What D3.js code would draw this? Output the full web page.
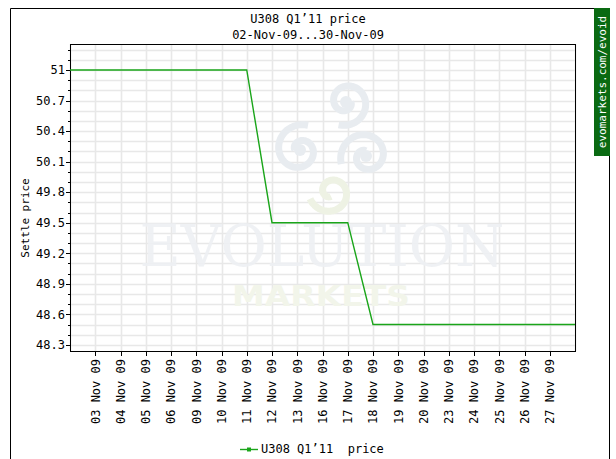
<!DOCTYPE html>
<html><head><meta charset="utf-8">
<script src="https://cdn.jsdelivr.net/npm/d3@7"></script>
<style>body{margin:0;background:#fff} text{white-space:pre}</style>
</head><body>
<svg id="c" width="616" height="459"></svg>
<script>
const dates = ["02 Nov 09","03 Nov 09","04 Nov 09","05 Nov 09","06 Nov 09","09 Nov 09","10 Nov 09","11 Nov 09","12 Nov 09","13 Nov 09","16 Nov 09","17 Nov 09","18 Nov 09","19 Nov 09","20 Nov 09","23 Nov 09","24 Nov 09","25 Nov 09","26 Nov 09","27 Nov 09","30 Nov 09"];
const prices = [51,51,51,51,51,51,51,51,49.5,49.5,49.5,49.5,48.5,48.5,48.5,48.5,48.5,48.5,48.5,48.5,48.5];
const tickLabels = ["03 Nov 09","04 Nov 09","05 Nov 09","06 Nov 09","09 Nov 09","10 Nov 09","11 Nov 09","12 Nov 09","13 Nov 09","16 Nov 09","17 Nov 09","18 Nov 09","19 Nov 09","20 Nov 09","23 Nov 09","24 Nov 09","25 Nov 09","26 Nov 09","27 Nov 09"];
const yMajor = [48.3,48.6,48.9,49.2,49.5,49.8,50.1,50.4,50.7,51];
const yMinor = [48.3,48.4,48.5,48.6,48.7,48.8,48.9,49.0,49.1,49.2,49.3,49.4,49.5,49.6,49.7,49.8,49.9,50.0,50.1,50.2,50.3,50.4,50.5,50.6,50.7,50.8,50.9,51.0,51.1,51.2];
const title = "U308 Q1\u201911 price";
const subtitle = "02-Nov-09...30-Nov-09";
const yTitle = "Settle price";
const legendText = "U308 Q1\u201911  price";
const watermark = "evomarkets.com/evoid";

const svg = d3.select("#c");
const L=70, R=575, T=44, B=351;
const font = "'DejaVu Sans Mono', monospace";
const x = d3.scalePoint().domain(dates).range([L,R]);
const y = d3.scaleLinear().domain([48.24,51.255]).range([B,T]);

// outer frame
svg.append("path").attr("d","M10.5,459 V8.5 H594").attr("fill","none").attr("stroke","#000");
svg.append("line").attr("x1",609.5).attr("x2",609.5).attr("y1",8).attr("y2",459).attr("stroke","#000");
// green side box
svg.append("rect").attr("x",594).attr("y",8).attr("width",16).attr("height",148).attr("fill","#0a6a12");
svg.append("text").attr("transform","translate(605.5,82) rotate(-90)").attr("text-anchor","middle")
  .attr("font-family",font).attr("font-size",11).attr("fill","#fff").text(watermark);

// titles
svg.append("text").attr("x",308).attr("y",23).attr("text-anchor","middle").attr("font-family",font).attr("font-size",12).attr("fill","#000").text(title);
svg.append("text").attr("x",308).attr("y",39).attr("text-anchor","middle").attr("font-family",font).attr("font-size",12).attr("fill","#000").text(subtitle);

// grid
const g = svg.append("g");
g.selectAll(".hg").data(yMinor).join("line").attr("x1",L).attr("x2",R)
  .attr("y1",d=>Math.round(y(d))+0.5).attr("y2",d=>Math.round(y(d))+0.5).attr("stroke","#e8e8e8").attr("stroke-width",1.6);
g.selectAll(".vg").data(dates).join("line").attr("y1",T).attr("y2",B)
  .attr("x1",d=>Math.round(x(d))+0.5).attr("x2",d=>Math.round(x(d))+0.5).attr("stroke","#e8e8e8").attr("stroke-width",1.6);

// watermark logo
const wm = svg.append("g");
function spiral(cx,cy,r,turns,rot,dir){
  const pts=[]; const n=120;
  for(let i=0;i<=n;i++){const t=i/n; const a=rot+dir*t*turns*2*Math.PI; const rr=r*(0.2+0.8*t); pts.push([cx+rr*Math.cos(a),cy+rr*Math.sin(a)]);}
  return d3.line().curve(d3.curveBasis)(pts);
}
const sc="#e8ecf0";
[[346,102,24,0,1],[300,150,26,Math.PI,1],[366,156,26,-Math.PI/2,-1]].forEach(s=>{
  wm.append("path").attr("d",spiral(s[0],s[1],s[2],1.3,s[3],s[4])).attr("fill","none").attr("stroke",sc).attr("stroke-width",7);
  wm.append("circle").attr("cx",s[0]).attr("cy",s[1]).attr("r",6).attr("fill",sc);
});
wm.append("path").attr("d",spiral(331,192,22,1.2,Math.PI/2,1)).attr("fill","none").attr("stroke","#eef2e4").attr("stroke-width",7);
wm.append("text").attr("x",322).attr("y",266).attr("text-anchor","middle").attr("font-family","'DejaVu Serif', serif")
  .attr("font-size",58).attr("fill","#edf0f3").attr("fill-opacity",0.9).attr("textLength",365).attr("lengthAdjust","spacingAndGlyphs").text("EVOLUTION");
wm.append("text").attr("x",321).attr("y",306).attr("text-anchor","middle").attr("font-family","'DejaVu Sans', sans-serif").attr("font-weight","bold")
  .attr("font-size",28).attr("fill","#f2f5ea").attr("textLength",178).attr("lengthAdjust","spacingAndGlyphs").text("MARKETS");

// plot frame
svg.append("rect").attr("x",L+0.5).attr("y",T+0.5).attr("width",R-L).attr("height",B-T).attr("fill","none").attr("stroke","#000");

// y axis ticks
svg.selectAll(".ymin").data(yMinor).join("line").attr("x1",L-2).attr("x2",L)
  .attr("y1",d=>Math.round(y(d))+0.5).attr("y2",d=>Math.round(y(d))+0.5).attr("stroke","#000");
svg.selectAll(".ymaj").data(yMajor).join("line").attr("x1",L-4).attr("x2",L)
  .attr("y1",d=>Math.round(y(d))+0.5).attr("y2",d=>Math.round(y(d))+0.5).attr("stroke","#000");
svg.selectAll(".ylab").data(yMajor).join("text").attr("x",L-5).attr("y",d=>y(d)).attr("dy","0.36em")
  .attr("text-anchor","end").attr("font-family",font).attr("font-size",12).attr("fill","#000").text(d=>d3.format("")(d));
svg.append("text").attr("transform","translate(29,218) rotate(-90)").attr("text-anchor","middle")
  .attr("font-family",font).attr("font-size",11).attr("fill","#000").text(yTitle);

// x axis
svg.selectAll(".xt").data(tickLabels).join("line").attr("x1",d=>Math.round(x(d))+0.5).attr("x2",d=>Math.round(x(d))+0.5)
  .attr("y1",B).attr("y2",B+5).attr("stroke","#000");
svg.selectAll(".xl").data(tickLabels).join("text")
  .attr("transform",d=>`translate(${x(d)},359) rotate(-90)`).attr("dy","0.36em").attr("text-anchor","end")
  .attr("font-family",font).attr("font-size",12).attr("fill","#000").text(d=>d);

// line
const line = d3.line().x((d,i)=>x(dates[i])).y(d=>y(d));
svg.append("path").datum(prices).attr("d",line).attr("fill","none").attr("stroke","#1aa51a").attr("stroke-width",1.4);

// legend
svg.append("line").attr("x1",240).attr("x2",258).attr("y1",449.5).attr("y2",449.5).attr("stroke","#1aa51a").attr("stroke-width",1.4);
svg.append("rect").attr("x",247).attr("y",447.5).attr("width",4).attr("height",4).attr("fill","#1aa51a");
svg.append("text").attr("x",261).attr("y",449).attr("dy","0.36em").attr("xml:space","preserve").attr("font-family",font).attr("font-size",12).attr("fill","#000").text(legendText);
</script>
</body></html>
